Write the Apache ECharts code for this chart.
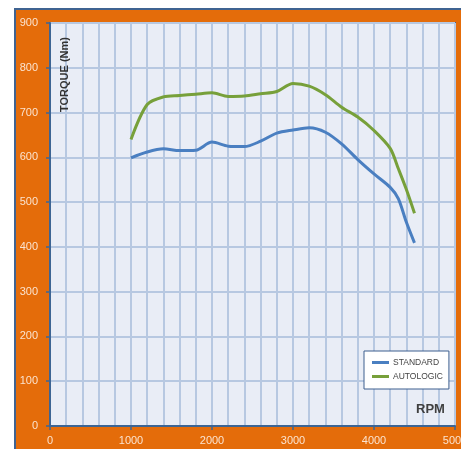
<!DOCTYPE html>
<html><head><meta charset="utf-8">
<script src="https://cdn.jsdelivr.net/npm/echarts@6/dist/echarts.min.js"></script>
<style>html,body{margin:0;padding:0;background:#fff}#c{width:461px;height:449px}</style>
</head><body><div id="c"></div>
<script>
var rpm = [1000,1200,1400,1600,1800,2000,2200,2400,2600,2800,3000,3200,3400,3600,3800,4000,4200,4300,4400,4500];
var standard = [599,612,619,615,616,634,625,624,636,654,661,666,656,630,595,563,533,508,455,409];
var autologic = [640,718,735,738,741,744,736,737,742,747,765,759,740,712,690,660,620,575,528,475];
var seriesNames = ['STANDARD','AUTOLOGIC'];
var xTicks = [0,1000,2000,3000,4000,5000];
var yTicks = [0,100,200,300,400,500,600,700,800,900];

function pairs(xs, ys){ return xs.map(function(x,i){ return [x, ys[i]]; }); }

var chart = echarts.init(document.getElementById('c'), null, {renderer:'canvas'});
var labelColor = '#fbe3cf';
chart.setOption({
  animation:false,
  backgroundColor:'#ffffff',
  graphic:[
    {type:'rect', z:-10, shape:{x:15,y:9,width:460,height:460}, style:{fill:'#e46c0a', stroke:'#3f6391', lineWidth:2}},
    {type:'text', z:10, x:59, y:112, rotation:Math.PI/2, style:{text:'TORQUE (Nm)', fill:'#333', font:'bold 11px "Liberation Sans", Arial', textAlign:'left', textVerticalAlign:'top'}},
    {type:'text', z:10, x:416, y:403, style:{text:'RPM', fill:'#404040', font:'bold 13px "Liberation Sans", Arial'}}
  ],
  grid:{left:50, top:23, right:6, bottom:23, outerBoundsMode:'none', containLabel:false, show:true, backgroundColor:'#e9edf6', borderColor:'#3d6594', borderWidth:2},
  legend:{
    data:seriesNames, orient:'vertical', left:364, top:351,
    backgroundColor:'#fff', borderColor:'#3d5f8f', borderWidth:1, padding:[7,6,8,8], itemGap:5,
    icon:'rect', itemWidth:17, itemHeight:3,
    textStyle:{fontSize:8.5, color:'#444', fontFamily:'Liberation Sans', padding:[0,0,0,-1]}
  },
  xAxis:{type:'value', min:xTicks[0], max:xTicks[xTicks.length-1], interval:1000,
    axisLine:{show:true, lineStyle:{color:'#3d6594', width:2}},
    axisTick:{show:true, length:4, lineStyle:{color:'#3d6594', width:1.5}},
    axisLabel:{color:labelColor, fontSize:11, margin:9, fontFamily:'Liberation Sans', formatter:function(v){return String(v);}},
    splitLine:{show:true, lineStyle:{color:'#b7c8e1', width:2}},
    minorTick:{show:false, splitNumber:5},
    minorSplitLine:{show:true, lineStyle:{color:'#b7c8e1', width:2}}
  },
  yAxis:{type:'value', min:yTicks[0], max:yTicks[yTicks.length-1], interval:100,
    axisLine:{show:true, lineStyle:{color:'#3d6594', width:2}},
    axisTick:{show:true, length:4, lineStyle:{color:'#3d6594', width:1.5}},
    axisLabel:{color:labelColor, fontSize:11, margin:12, fontFamily:'Liberation Sans', formatter:function(v){return String(v);}},
    splitLine:{show:true, lineStyle:{color:'#b7c8e1', width:2}}
  },
  series:[
    {name:seriesNames[0], type:'line', data:pairs(rpm, standard), smooth:0.3, showSymbol:false, symbol:'none', lineStyle:{color:'#4a7fc1', width:3}, itemStyle:{color:'#4a7fc1'}},
    {name:seriesNames[1], type:'line', data:pairs(rpm, autologic), smooth:0.3, showSymbol:false, symbol:'none', lineStyle:{color:'#77a03a', width:3}, itemStyle:{color:'#77a03a'}}
  ]
});
</script></body></html>
